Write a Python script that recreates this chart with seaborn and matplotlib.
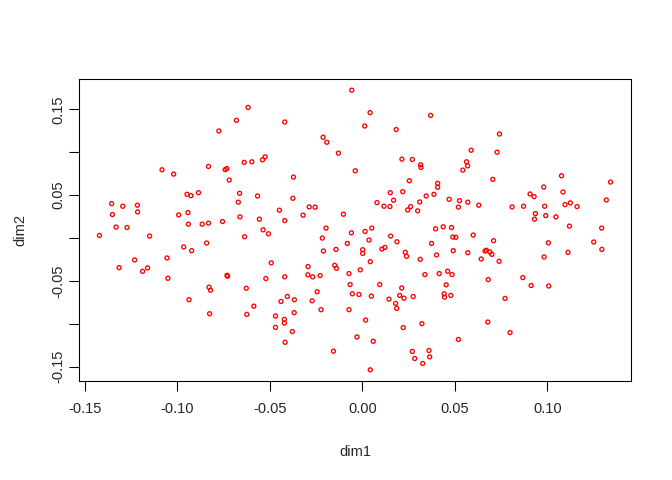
import numpy as np
import pandas as pd
import matplotlib
matplotlib.use("Agg")
import matplotlib.pyplot as plt
import seaborn as sns

# coordinates
dim1 = [
    -0.0617, -0.0680, -0.0775, -0.1082, -0.1019, -0.0831, -0.0741, -0.0732, -0.0719, -0.0638,
    -0.0597, -0.0539, -0.0525, -0.0057, 0.0042, 0.0369, -0.0419, 0.0013, 0.0183, -0.0212,
    -0.0192, -0.0129, 0.0214, 0.0270, 0.0315, 0.0317, -0.0038, -0.0372, 0.0254, 0.0407,
    0.0741, 0.0588, 0.0728, 0.0563, 0.0569, 0.0543, 0.0705, 0.1076, 0.1341, -0.1354,
    -0.1294, -0.1215, -0.1350, -0.1214, -0.1330, -0.1271, -0.1420, -0.1149, -0.0947, -0.0926,
    -0.0885, -0.0663, -0.0566, -0.0670, -0.0992, -0.0942, -0.0940, -0.0865, -0.0831, -0.0755,
    -0.0661, -0.0556, -0.0536, -0.0507, -0.0636, -0.0841, -0.0965, -0.0922, -0.1230, -0.1055,
    -0.1314, -0.1187, -0.1160, -0.0492, -0.0731, -0.1050, -0.0521, -0.0728, 0.0407, -0.0375,
    -0.0448, -0.0287, -0.0255, -0.0320, -0.0419, -0.0102, 0.0151, 0.0218, 0.0345, 0.0387,
    0.0079, 0.0169, 0.0117, 0.0149, 0.0245, 0.0261, 0.0310, 0.0299, 0.0469, 0.0525,
    0.0519, -0.0196, -0.0216, -0.0059, 0.0015, 0.0051, 0.0036, -0.0081, -0.0210, -0.0142,
    0.0002, 0.0002, 0.0106, 0.0122, 0.0153, 0.0187, 0.0232, 0.0239, 0.0043, 0.0313,
    0.0396, 0.0437, 0.0482, 0.0489, 0.0505, 0.0374, 0.0401, 0.0491, -0.0293, -0.0149,
    -0.0140, -0.0011, -0.0072, -0.0419, -0.0294, -0.0268, -0.0228, -0.0066, 0.0094, 0.0338,
    0.0415, 0.0461, 0.0485, 0.0453, 0.0213, 0.0980, 0.0570, 0.0629, 0.0906, 0.0928,
    0.1084, 0.0809, 0.0871, 0.0985, 0.1095, 0.1124, 0.1160, 0.1318, 0.0935, 0.0991,
    0.0930, 0.1046, 0.1119, 0.1293, 0.0599, 0.0709, 0.1005, 0.1250, 0.1294, 0.0570,
    0.0663, 0.0670, 0.0689, 0.0700, 0.0642, 0.0739, 0.0982, 0.1111, 0.0680, 0.0867,
    0.0912, 0.1007, -0.0828, -0.0820, -0.0627, -0.0936, -0.0586, -0.0825, -0.0624, -0.0469,
    -0.0469, -0.0244, -0.0405, -0.0439, -0.0367, -0.0271, -0.0054, -0.0018, 0.0049, 0.0144,
    0.0202, 0.0225, 0.0275, 0.0180, 0.0186, 0.0442, 0.0444, 0.0478, -0.0368, -0.0223,
    -0.0072, -0.0421, -0.0421, -0.0378, -0.0417, 0.0018, 0.0322, 0.0221, -0.0029, 0.0059,
    0.0519, -0.0156, 0.0270, 0.0283, 0.0360, 0.0364, 0.0326, 0.0043, 0.0771, 0.0678,
    0.0798,
]
dim2 = [
    0.1523, 0.1372, 0.1248, 0.0796, 0.0746, 0.0835, 0.0798, 0.0810, 0.0676, 0.0882,
    0.0889, 0.0912, 0.0947, 0.1724, 0.1462, 0.1430, 0.1353, 0.1306, 0.1265, 0.1175,
    0.1117, 0.0990, 0.0920, 0.0916, 0.0854, 0.0824, 0.0784, 0.0711, 0.0668, 0.0638,
    0.1213, 0.1024, 0.1001, 0.0889, 0.0842, 0.0792, 0.0684, 0.0726, 0.0653, 0.0401,
    0.0371, 0.0383, 0.0274, 0.0305, 0.0128, 0.0123, 0.0030, 0.0023, 0.0510, 0.0494,
    0.0529, 0.0522, 0.0491, 0.0418, 0.0270, 0.0297, 0.0162, 0.0162, 0.0174, 0.0193,
    0.0247, 0.0220, 0.0096, 0.0050, 0.0015, -0.0058, -0.0104, -0.0147, -0.0255, -0.0232,
    -0.0345, -0.0387, -0.0348, -0.0289, -0.0434, -0.0469, -0.0472, -0.0445, 0.0592, 0.0464,
    0.0325, 0.0363, 0.0360, 0.0267, 0.0204, 0.0278, 0.0529, 0.0541, 0.0491, 0.0510,
    0.0413, 0.0441, 0.0371, 0.0367, 0.0328, 0.0367, 0.0421, 0.0317, 0.0452, 0.0436,
    0.0360, 0.0116, 0.0000, 0.0061, 0.0077, 0.0116, -0.0023, -0.0063, -0.0151, -0.0132,
    -0.0136, -0.0179, -0.0128, -0.0109, 0.0023, -0.0043, -0.0167, -0.0213, -0.0275, -0.0248,
    0.0108, 0.0131, 0.0123, 0.0012, 0.0009, -0.0063, -0.0197, -0.0147, -0.0333, -0.0318,
    -0.0353, -0.0371, -0.0414, -0.0452, -0.0429, -0.0452, -0.0437, -0.0542, -0.0542, -0.0426,
    -0.0414, -0.0387, -0.0426, -0.0545, -0.0582, 0.0595, 0.0418, 0.0383, 0.0514, 0.0483,
    0.0537, 0.0363, 0.0371, 0.0371, 0.0390, 0.0410, 0.0367, 0.0444, 0.0285, 0.0262,
    0.0220, 0.0247, 0.0139, 0.0116, 0.0035, -0.0031, -0.0055, -0.0046, -0.0132, -0.0171,
    -0.0151, -0.0142, -0.0162, -0.0190, -0.0244, -0.0271, -0.0220, -0.0167, -0.0484, -0.0461,
    -0.0553, -0.0559, -0.0573, -0.0608, -0.0585, -0.0719, -0.0794, -0.0882, -0.0890, -0.0909,
    -0.1041, -0.0626, -0.0681, -0.0739, -0.0719, -0.0731, -0.0650, -0.0658, -0.0677, -0.0712,
    -0.0669, -0.0701, -0.0681, -0.0762, -0.0820, -0.0650, -0.0689, -0.0669, -0.0870, -0.0835,
    -0.0835, -0.0948, -0.0991, -0.1090, -0.1215, -0.0956, -0.0998, -0.1044, -0.1153, -0.1203,
    -0.1182, -0.1319, -0.1322, -0.1404, -0.1311, -0.1385, -0.1462, -0.1536, -0.0704, -0.0979,
    -0.1102,
]

x_ticks = [-0.15, -0.10, -0.05, 0.00, 0.05, 0.10]
y_ticks = [-0.15, -0.10, -0.05, 0.00, 0.05, 0.10, 0.15]
y_tick_labels = ["-0.15", "", "-0.05", "", "0.05", "", "0.15"]

df = pd.DataFrame({"dim1": dim1, "dim2": dim2})

sns.set_style("ticks")
plt.rcParams["font.family"] = ["Liberation Sans", "DejaVu Sans"]
plt.rcParams["axes.unicode_minus"] = False

fig = plt.figure(figsize=(7, 5), dpi=96)
ax = fig.add_axes([79 / 672, 1 - 381 / 480, 552 / 672, 302 / 480])

sns.scatterplot(
    data=df,
    x="dim1",
    y="dim2",
    ax=ax,
    marker="o",
    s=9,
    facecolors="none",
    edgecolor="red",
    linewidth=1.0,
)
ax.margins(x=0.04, y=0.04)

# base-R look: full box, outward ticks
for side in ["top", "bottom", "left", "right"]:
    ax.spines[side].set_visible(True)
    ax.spines[side].set_color("black")
    ax.spines[side].set_linewidth(0.8)

ax.set_xticks(x_ticks)
ax.set_xticklabels([f"{t:.2f}" for t in x_ticks])
ax.set_yticks(y_ticks)
ax.set_yticklabels(y_tick_labels, rotation=90, va="center")
ax.tick_params(axis="both", direction="out", length=7.5, width=0.8,
               color="black", labelsize=11)
ax.tick_params(axis="x", pad=8)
ax.tick_params(axis="y", pad=3)

ax.set_xlabel("dim1", fontsize=11)
ax.set_ylabel("dim2", fontsize=11)
ax.xaxis.set_label_coords(0.5, (381 - 452) / 302)
ax.xaxis.label.set_verticalalignment("center")
ax.yaxis.set_label_coords((20 - 79) / 552, 0.5)
ax.yaxis.label.set_verticalalignment("center")
ax.yaxis.label.set_horizontalalignment("center")

fig.savefig("out.png", dpi=96)
